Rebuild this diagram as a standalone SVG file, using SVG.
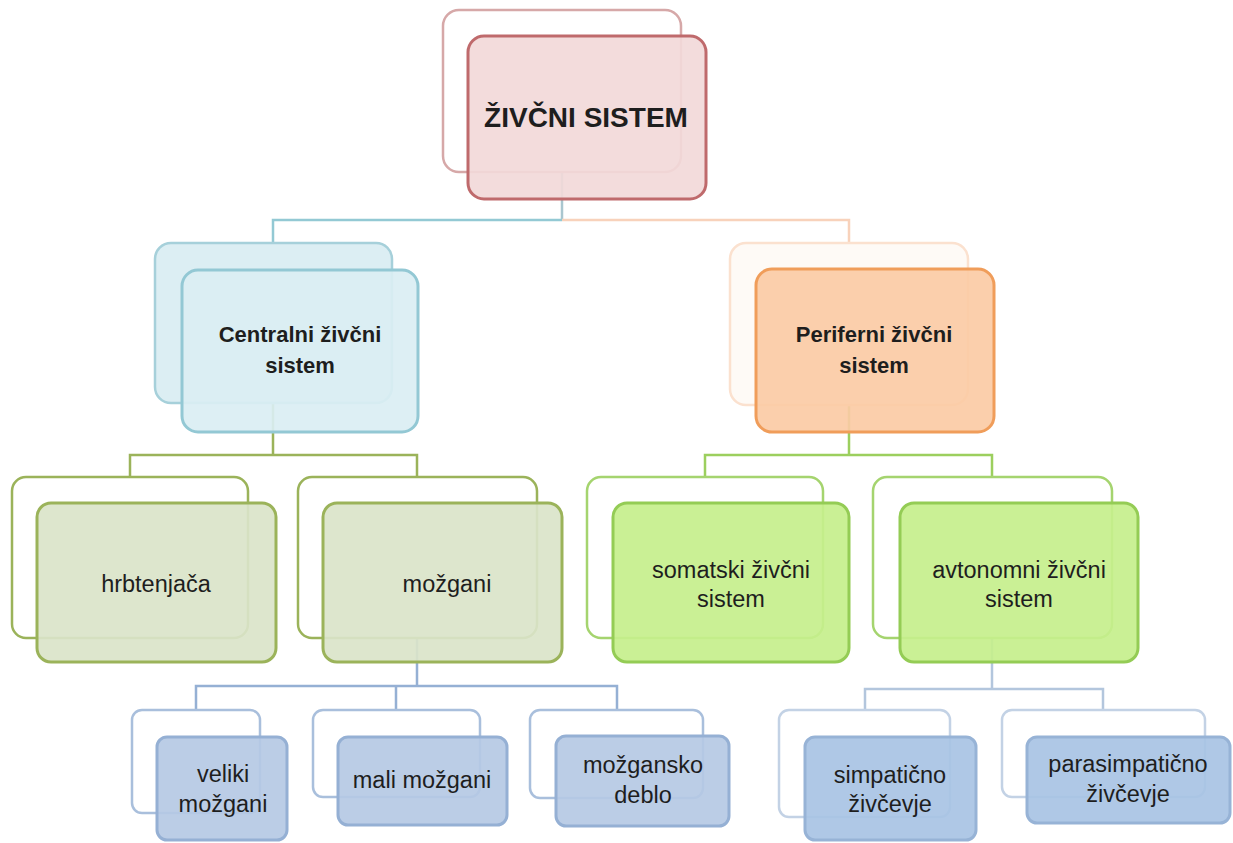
<svg xmlns="http://www.w3.org/2000/svg" width="1233" height="843" viewBox="0 0 1233 843">
<style>
text{font-family:"Liberation Sans",Arial,sans-serif;text-anchor:middle;fill:#1e1e1e}
.b{font-weight:bold;font-size:22px}
.t{font-size:23.5px}
.back{stroke-width:2.5}
.front{stroke-width:3;fill-opacity:0.92}
.c{fill:none;stroke-width:2.5}
</style>
<rect width="1233" height="843" fill="#ffffff"/>
<g id="connectors" class="c">
<path d="M562 172V220" stroke="#a9c6cf"/>
<path d="M562 220H273V243" stroke="#93c9d4"/>
<path d="M562 220H849V243" stroke="#f8d2bb"/>
<path d="M273 403V455M130 477V455H417V477" stroke="#9bb35a"/>
<path d="M849 405V455M705 477V455H992V477" stroke="#9ccf5e"/>
<path d="M417 638V686M196 710V686H617V710M396 686V710" stroke="#95b0d4"/>
<path d="M992 638V689M865 710V689H1103V710" stroke="#b3c6dd"/>
</g>
<g id="node-root">
<rect class="back" x="443" y="10" width="238" height="162" rx="16" fill="#ffffff" stroke="#d6a8a8"/>
<rect class="front" x="468" y="36" width="238" height="163" rx="16" fill="#f2d9d9" stroke="#bf6a6c"/>
<text x="586" y="127" font-size="28" font-weight="bold">ŽIVČNI SISTEM</text>
</g>
<g id="node-centralni">
<rect class="back" x="155" y="243" width="237" height="160" rx="16" fill="#dceef3" stroke="#a6d0da"/>
<rect class="front" x="182" y="270" width="236" height="162" rx="16" fill="#daeef3" stroke="#93c8d4"/>
<text class="b" x="300" y="342">Centralni živčni</text>
<text class="b" x="300" y="373">sistem</text>
</g>
<g id="node-periferni">
<rect class="back" x="730" y="243" width="238" height="162" rx="16" fill="#fefaf6" stroke="#fbe1cf"/>
<rect class="front" x="756" y="269" width="238" height="163" rx="16" fill="#fbcba5" stroke="#f09d5a"/>
<text class="b" x="874" y="342">Periferni živčni</text>
<text class="b" x="874" y="373">sistem</text>
</g>
<g id="node-hrbtenjaca">
<rect class="back" x="12" y="477" width="236" height="161" rx="14" fill="#ffffff" stroke="#9bb35a"/>
<rect class="front" x="37" y="503" width="239" height="159" rx="14" fill="#dae4c9" stroke="#9bb35a"/>
<text class="t" x="156" y="592">hrbtenjača</text>
</g>
<g id="node-mozgani">
<rect class="back" x="298" y="477" width="239" height="161" rx="14" fill="#ffffff" stroke="#9bb35a"/>
<rect class="front" x="323" y="503" width="239" height="159" rx="14" fill="#dae4c9" stroke="#9bb35a"/>
<text class="t" x="447" y="592">možgani</text>
</g>
<g id="node-somatski">
<rect class="back" x="587" y="477" width="236" height="161" rx="14" fill="#ffffff" stroke="#a5d46f"/>
<rect class="front" x="613" y="503" width="236" height="159" rx="14" fill="#c6ef8c" stroke="#94cc55"/>
<text class="t" x="731" y="578">somatski živčni</text>
<text class="t" x="731" y="607">sistem</text>
</g>
<g id="node-avtonomni">
<rect class="back" x="873" y="477" width="239" height="161" rx="14" fill="#ffffff" stroke="#a5d46f"/>
<rect class="front" x="900" y="503" width="238" height="159" rx="14" fill="#c6ef8c" stroke="#94cc55"/>
<text class="t" x="1019" y="578">avtonomni živčni</text>
<text class="t" x="1019" y="607">sistem</text>
</g>
<g id="node-veliki">
<rect class="back" x="132" y="710" width="128" height="103" rx="10" fill="#ffffff" stroke="#a9bfdc"/>
<rect class="front" x="157" y="737" width="130" height="103" rx="10" fill="#b5c9e4" stroke="#95b0d4"/>
<text class="t" x="223" y="782">veliki</text>
<text class="t" x="223" y="812">možgani</text>
</g>
<g id="node-mali">
<rect class="back" x="313" y="710" width="167" height="87" rx="10" fill="#ffffff" stroke="#a9bfdc"/>
<rect class="front" x="338" y="737" width="169" height="88" rx="10" fill="#b5c9e4" stroke="#95b0d4"/>
<text class="t" x="422" y="788">mali možgani</text>
</g>
<g id="node-deblo">
<rect class="back" x="530" y="710" width="173" height="88" rx="10" fill="#ffffff" stroke="#a9bfdc"/>
<rect class="front" x="556" y="736" width="173" height="90" rx="10" fill="#b5c9e4" stroke="#95b0d4"/>
<text class="t" x="643" y="773">možgansko</text>
<text class="t" x="643" y="803">deblo</text>
</g>
<g id="node-simpaticno">
<rect class="back" x="779" y="710" width="171" height="107" rx="10" fill="#ffffff" stroke="#c3d2e5"/>
<rect class="front" x="805" y="737" width="171" height="103" rx="10" fill="#a8c3e4" stroke="#97b3d6"/>
<text class="t" x="890" y="783">simpatično</text>
<text class="t" x="890" y="812">živčevje</text>
</g>
<g id="node-parasimpaticno">
<rect class="back" x="1002" y="710" width="203" height="87" rx="10" fill="#ffffff" stroke="#c3d2e5"/>
<rect class="front" x="1027" y="737" width="203" height="86" rx="10" fill="#a8c3e4" stroke="#97b3d6"/>
<text class="t" x="1128" y="772">parasimpatično</text>
<text class="t" x="1128" y="802">živčevje</text>
</g>
</svg>
